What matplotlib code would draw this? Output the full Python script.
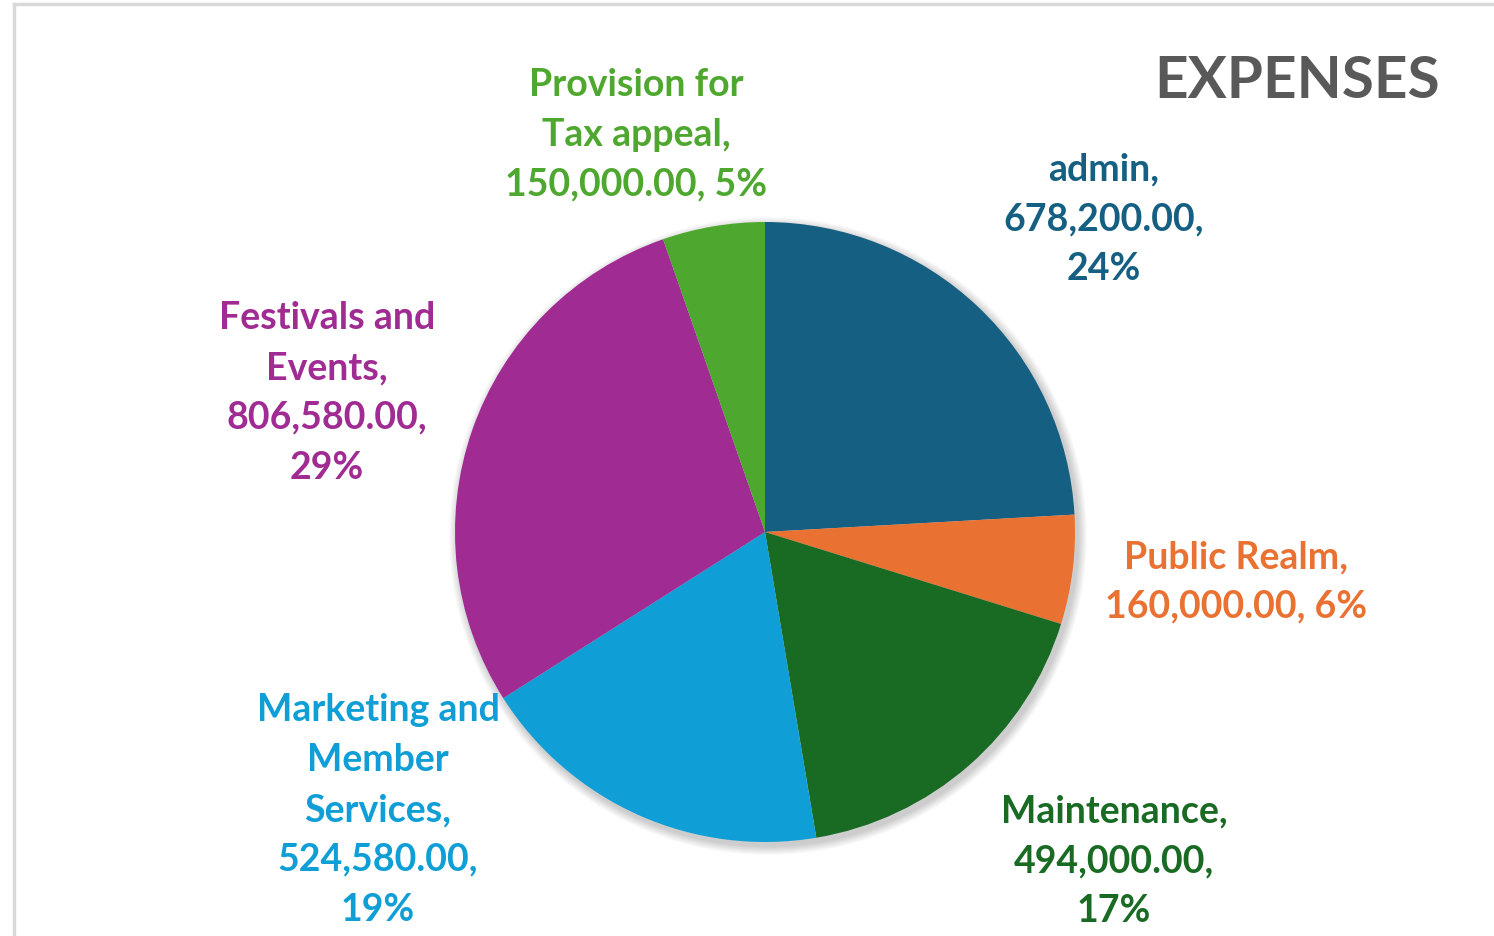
import matplotlib
matplotlib.use("Agg")
import matplotlib.pyplot as plt
from matplotlib.patches import Circle
from matplotlib.lines import Line2D

categories = ["admin", "Public Realm", "Maintenance", "Marketing and\nMember\nServices",
              "Festivals and\nEvents", "Provision for\nTax appeal"]
values = [678200.00, 160000.00, 494000.00, 524580.00, 806580.00, 150000.00]
percent_labels = ["24%", "6%", "17%", "19%", "29%", "5%"]
colors = ["#156082", "#E97132", "#196B24", "#0F9ED5", "#A02B93", "#4EA72E"]

W, H = 1494, 937
fig = plt.figure(figsize=(W / 100, H / 100), dpi=100)
ax = fig.add_axes([0, 0, 1, 1])

cx, cy, R = 765, H - 533, 310

# soft shadow
for k in range(10, 0, -1):
    ax.add_patch(Circle((cx + 3, cy - 4), R + k * 0.9, color="black", alpha=0.018, lw=0, zorder=0))

wedges, _ = ax.pie(values, colors=colors, startangle=90, counterclock=False,
                   center=(cx, cy), radius=R, wedgeprops=dict(linewidth=0),
                   frame=False)
for w in wedges:
    w.set_zorder(2)
ax.set_xlim(0, W)
ax.set_ylim(0, H)
ax.set_aspect("auto")
ax.axis("off")

def fmt(v):
    return f"{v:,.2f}"

label_texts = [
    f"{categories[0]},\n{fmt(values[0])},\n{percent_labels[0]}",
    f"{categories[1]},\n{fmt(values[1])}, {percent_labels[1]}",
    f"{categories[2]},\n{fmt(values[2])},\n{percent_labels[2]}",
    f"{categories[3]},\n{fmt(values[3])},\n{percent_labels[3]}",
    f"{categories[4]},\n{fmt(values[4])},\n{percent_labels[4]}",
    f"{categories[5]},\n{fmt(values[5])}, {percent_labels[5]}",
]
label_pos = [(1104, 219), (1236, 582), (1114, 861), (378, 810), (327, 393), (636, 135)]

for txt, (x, y), c in zip(label_texts, label_pos, colors):
    ax.text(x, H - y, txt, ha="center", va="center", color=c, fontsize=27,
            fontweight="bold", family=["Lato", "DejaVu Sans"], linespacing=1.57,
            multialignment="center", zorder=5)

ax.text(1440, H - 82, "EXPENSES", ha="right", va="center", color="#595959",
        fontsize=42, fontweight="bold", family=["Lato", "DejaVu Sans"], zorder=5)

# frame borders
fig.add_artist(Line2D([14 / W, 1], [1 - 5 / H, 1 - 5 / H], transform=fig.transFigure,
                      color="#D9D9D9", lw=2.5))
fig.add_artist(Line2D([14 / W, 14 / W], [0, 1 - 5 / H], transform=fig.transFigure,
                      color="#D9D9D9", lw=2.5))

fig.savefig("out.png", dpi=100)
